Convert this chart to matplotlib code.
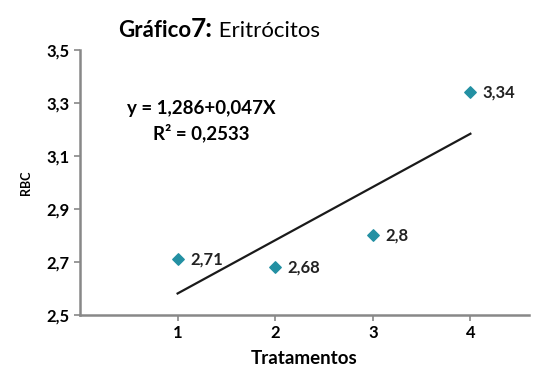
import numpy as np
import matplotlib.pyplot as plt

# data
tratamentos = [1, 2, 3, 4]
rbc = [2.71, 2.68, 2.80, 3.34]
rotulos = ['2,71', '2,68', '2,8', '3,34']
yticks = [2.5, 2.7, 2.9, 3.1, 3.3, 3.5]
xticks = [1, 2, 3, 4]

plt.rcParams['font.family'] = ['Lato', 'DejaVu Sans']

fig = plt.figure(figsize=(5.37, 3.85), dpi=100)
ax = fig.add_axes([0.149, 0.182, 0.836, 0.688])

# trend line (least squares over the points)
coef = np.polyfit(tratamentos, rbc, 1)
xl = np.array([tratamentos[0], tratamentos[-1]])
ax.plot(xl, np.polyval(coef, xl), color='#1a1a1a', lw=1.6, zorder=2)

ax.scatter(tratamentos, rbc, marker='D', s=34, color='#2390a3', zorder=3)
for x, y, t in zip(tratamentos, rbc, rotulos):
    ax.annotate(t, (x, y), xytext=(9, 0), textcoords='offset points',
                va='center', ha='left', fontsize=12, fontweight='bold', color='#222222')

ax.set_xlim(0, 4.6)
ax.set_ylim(2.5, 3.5)
ax.set_xticks(xticks)
ax.set_yticks(yticks)
ax.set_yticklabels([f'{v:.1f}'.replace('.', ',') for v in yticks])
ax.tick_params(axis='both', labelsize=12, color='#888888', length=4, width=1.2, direction='out')
for lab in ax.get_xticklabels() + ax.get_yticklabels():
    lab.set_fontweight('bold')

for s in ['top', 'right']:
    ax.spines[s].set_visible(False)
for s in ['left', 'bottom']:
    ax.spines[s].set_color('#888888')
    ax.spines[s].set_linewidth(1.8)

ax.set_xlabel('Tratamentos', fontsize=13.5, fontweight='bold', labelpad=6)
ax.set_ylabel('RBC', fontsize=9, fontweight='bold', labelpad=10)

ax.text(0.27, 0.78, 'y = 1,286+0,047X', transform=ax.transAxes,
        fontsize=13.5, fontweight='bold', ha='center', va='center')
ax.text(0.27, 0.687, 'R² = 0,2533', transform=ax.transAxes,
        fontsize=13.5, fontweight='bold', ha='center', va='center')

# title in three pieces, placed one after another
r = fig.canvas.get_renderer()
x0 = 118
pecas = [('Gráfico', 16, 'bold'), ('7:', 19, 'bold'), (' Eritrócitos', 16, 'normal')]
for txt, fs, fw in pecas:
    t = fig.text(x0 / 537, 1 - 37 / 385, txt, fontsize=fs, fontweight=fw,
                 va='baseline', ha='left')
    x0 = t.get_window_extent(r).x1

fig.savefig('out.png', dpi=100)
